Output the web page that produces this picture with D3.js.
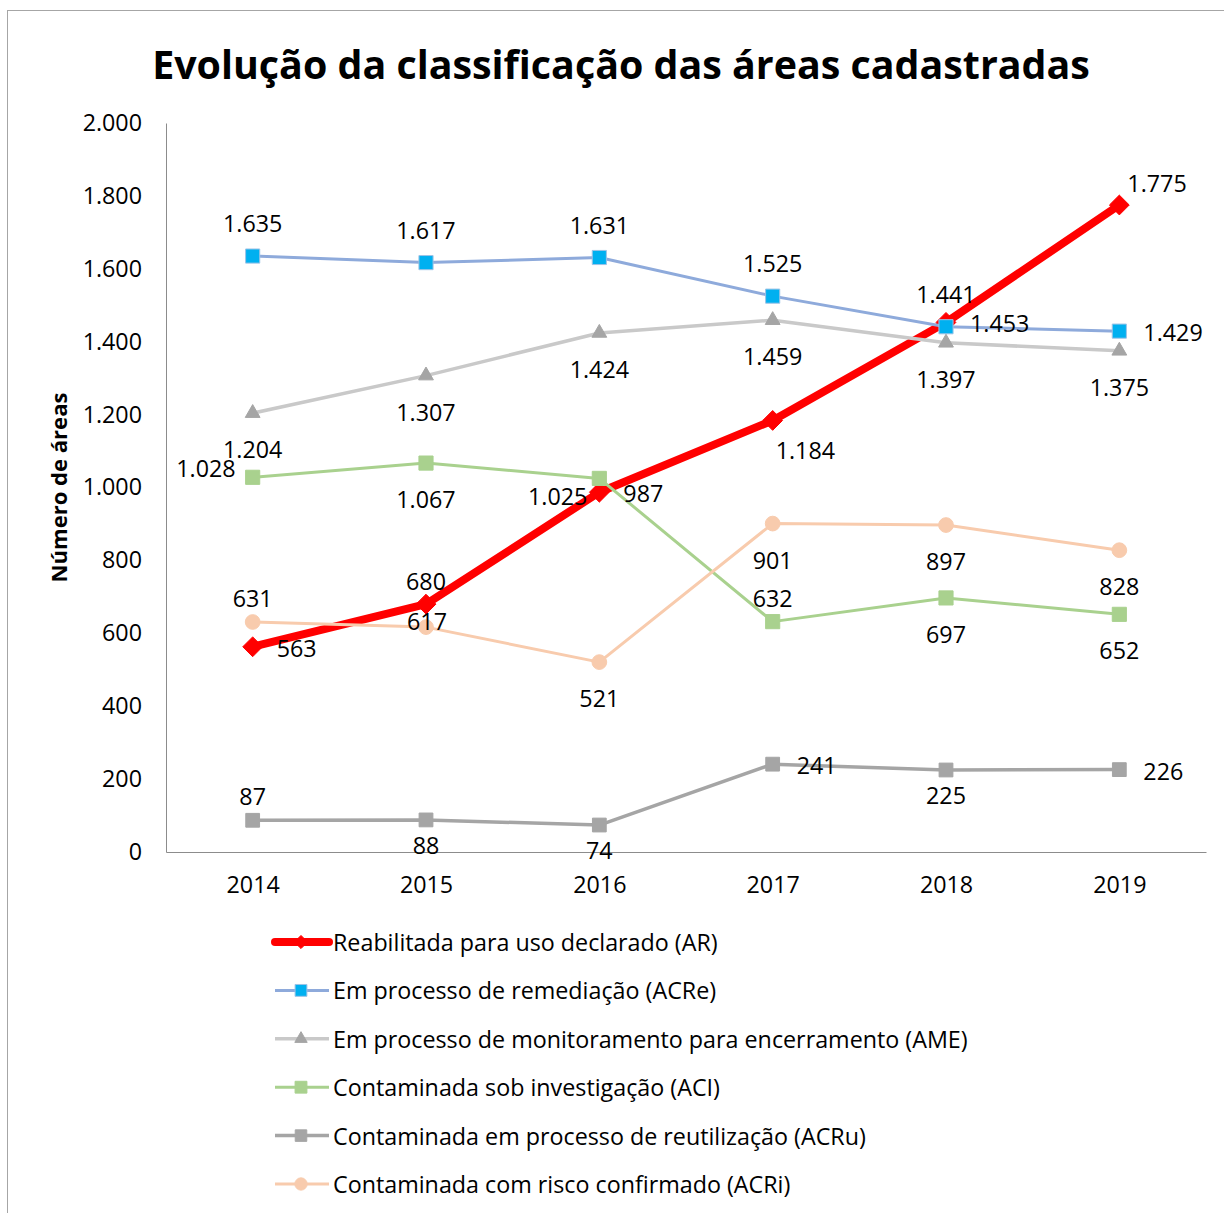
<!DOCTYPE html>
<html>
<head>
<meta charset="utf-8">
<script src="https://cdn.jsdelivr.net/npm/d3@7"></script>
<style>
  html, body { margin: 0; padding: 0; background: #fff; }
  svg text { font-family: "Open Sans", Lato, sans-serif; fill: #000; }
</style>
</head>
<body>
<div id="viz"></div>
<script>
'use strict';

const years = ['2014', '2015', '2016', '2017', '2018', '2019'];
const yTicks = [0, 200, 400, 600, 800, 1000, 1200, 1400, 1600, 1800, 2000];

const arValues = [563, 680, 987, 1184, 1453, 1775];
const acreValues = [1635, 1617, 1631, 1525, 1441, 1429];
const ameValues = [1204, 1307, 1424, 1459, 1397, 1375];
const aciValues = [1028, 1067, 1025, 632, 697, 652];
const acruValues = [87, 88, 74, 241, 225, 226];
const acriValues = [631, 617, 521, 901, 897, 828];

const seriesNames = [
  'Reabilitada para uso declarado (AR)',
  'Em processo de remediação (ACRe)',
  'Em processo de monitoramento para encerramento (AME)',
  'Contaminada sob investigação (ACI)',
  'Contaminada em processo de reutilização (ACRu)',
  'Contaminada com risco confirmado (ACRi)'
];

const titleText = 'Evolução da classificação das áreas cadastradas';
const yTitleText = 'Número de áreas';

// where each data label sits relative to its point
const arLabelPos = ['r', 'tAR', 'r', 'br', 'r', 'tr'];
const acreLabelPos = ['t', 't', 't', 't', 't', 'r'];
const ameLabelPos = ['b', 'b', 'b', 'b', 'b', 'b'];
const aciLabelPos = ['l', 'b', 'bl', 'tS', 'b', 'b'];
const acruLabelPos = ['tS', 'bS', 'bS', 'r', 'bS', 'r'];
const acriLabelPos = ['tS', 'c', 'b', 'b', 'b', 'b'];

const labelOffsets = {
  t:   {dx: 0, dy: -33, anchor: 'middle'},
  tAR: {dx: 0, dy: -23, anchor: 'middle'},
  tS:  {dx: 0, dy: -24, anchor: 'middle'},
  tr:  {dx: 8, dy: -22, anchor: 'start'},
  b:   {dx: 0, dy: 36, anchor: 'middle'},
  bS:  {dx: 0, dy: 25, anchor: 'middle'},
  br:  {dx: 3, dy: 30, anchor: 'start'},
  bl:  {dx: -12, dy: 18, anchor: 'end'},
  r:   {dx: 24, dy: 1, anchor: 'start'},
  l:   {dx: -17, dy: -9, anchor: 'end'},
  c:   {dx: 1, dy: -6, anchor: 'middle'}
};

const series = [
  {name: seriesNames[0], values: arValues, labels: arLabelPos,
   line: '#ff0000', lineWidth: 8, symbol: d3.symbolDiamond2, size: 250, fill: '#ff0000', stroke: '#ff0000'},
  {name: seriesNames[1], values: acreValues, labels: acreLabelPos,
   line: '#8eaadb', lineWidth: 3, symbol: d3.symbolSquare, size: 200, fill: '#00b0f0', stroke: '#9dc3e6'},
  {name: seriesNames[2], values: ameValues, labels: ameLabelPos,
   line: '#c9c9c9', lineWidth: 3.5, symbol: d3.symbolTriangle, size: 95, fill: '#a5a5a5', stroke: '#a5a5a5'},
  {name: seriesNames[3], values: aciValues, labels: aciLabelPos,
   line: '#a9d18e', lineWidth: 3, symbol: d3.symbolSquare, size: 200, fill: '#a9d18e', stroke: '#a9d18e'},
  {name: seriesNames[4], values: acruValues, labels: acruLabelPos,
   line: '#a5a5a5', lineWidth: 3.5, symbol: d3.symbolSquare, size: 190, fill: '#a5a5a5', stroke: '#a5a5a5'},
  {name: seriesNames[5], values: acriValues, labels: acriLabelPos,
   line: '#f8cbad', lineWidth: 3, symbol: d3.symbolCircle, size: 170, fill: '#f8cbad', stroke: '#f8cbad'}
];

const ptBR = d3.formatLocale({decimal: ',', thousands: '.', grouping: [3], currency: ['R$', '']});
const fmt = ptBR.format(',d');

const W = 1224, H = 1213;
const plot = {left: 166, right: 1206, top: 123, bottom: 852};

const svg = d3.select('#viz')
  .append('svg')
    .attr('width', W)
    .attr('height', H);

// pick a font size that makes a text run a given width
function fitSize(text, weight, target) {
  const probe = svg.append('text')
    .style('font-size', '100px')
    .style('font-weight', weight)
    .text(text);
  const w = probe.node().getComputedTextLength();
  probe.remove();
  return 100 * target / w;
}

const baseSize = fitSize(seriesNames[2], 'normal', 635);
const titleSize = fitSize(titleText, 'bold', 938);
const yTitleSize = fitSize(yTitleText, 'bold', 190);

svg.append('rect')
  .attr('width', W)
  .attr('height', H)
  .attr('fill', '#fff');

// chart frame (runs off the right and bottom of the picture)
svg.append('rect')
  .attr('x', 7.5)
  .attr('y', 10.5)
  .attr('width', W + 20)
  .attr('height', H + 20)
  .attr('fill', 'none')
  .attr('stroke', '#a6a6a6')
  .attr('stroke-width', 1);

svg.append('text')
  .attr('x', 621)
  .attr('y', 64)
  .attr('text-anchor', 'middle')
  .attr('dominant-baseline', 'central')
  .style('font-size', titleSize + 'px')
  .style('font-weight', 'bold')
  .text(titleText);

const x = d3.scalePoint()
  .domain(years)
  .range([plot.left, plot.right])
  .padding(0.5);

const y = d3.scaleLinear()
  .domain([0, 2000])
  .range([plot.bottom, plot.top]);

// Y axis
const yAxis = svg.append('g')
  .attr('transform', `translate(${plot.left},0)`)
  .call(d3.axisLeft(y).tickValues(yTicks).tickSize(0).tickPadding(24).tickFormat(fmt));
yAxis.select('.domain').attr('stroke', '#8c8c8c').attr('stroke-width', 1);
yAxis.selectAll('text')
  .style('font-size', baseSize + 'px')
  .attr('font-family', null);

// X axis
const xAxis = svg.append('g')
  .attr('transform', `translate(0,${plot.bottom})`)
  .call(d3.axisBottom(x).tickSize(0).tickPadding(24));
xAxis.select('.domain').attr('stroke', '#8c8c8c').attr('stroke-width', 1);
xAxis.selectAll('text')
  .style('font-size', baseSize + 'px')
  .attr('font-family', null);

svg.append('text')
  .attr('transform', `translate(58,${(plot.top + plot.bottom) / 2}) rotate(-90)`)
  .attr('text-anchor', 'middle')
  .attr('dominant-baseline', 'central')
  .style('font-size', yTitleSize + 'px')
  .style('font-weight', 'bold')
  .text(yTitleText);

const line = d3.line()
  .x((d, i) => x(years[i]))
  .y(d => y(d));

for (const s of series) {
  svg.append('path')
    .datum(s.values)
    .attr('fill', 'none')
    .attr('stroke', s.line)
    .attr('stroke-width', s.lineWidth)
    .attr('stroke-linejoin', 'round')
    .attr('d', line);

  svg.append('g')
    .selectAll('path')
    .data(s.values)
    .join('path')
      .attr('transform', (d, i) => `translate(${x(years[i])},${y(d)})`)
      .attr('d', d3.symbol(s.symbol, s.size))
      .attr('fill', s.fill)
      .attr('stroke', s.stroke)
      .attr('stroke-width', 1);
}

// data labels on top of everything
for (const s of series) {
  svg.append('g')
    .selectAll('text')
    .data(s.values)
    .join('text')
      .attr('x', (d, i) => x(years[i]) + labelOffsets[s.labels[i]].dx)
      .attr('y', (d, i) => y(d) + labelOffsets[s.labels[i]].dy)
      .attr('text-anchor', (d, i) => labelOffsets[s.labels[i]].anchor)
      .attr('dominant-baseline', 'central')
      .style('font-size', baseSize + 'px')
      .text(d => fmt(d));
}

// legend
const legendTop = 942, legendStep = 48.4;
const legend = svg.append('g');
series.forEach((s, i) => {
  const ly = legendTop + i * legendStep;
  const g = legend.append('g').attr('transform', `translate(0,${ly})`);
  g.append('line')
    .attr('x1', 275).attr('x2', 329)
    .attr('stroke', s.line)
    .attr('stroke-width', s.lineWidth)
    .attr('stroke-linecap', i === 0 ? 'round' : 'butt');
  g.append('path')
    .attr('transform', 'translate(301,0)')
    .attr('d', d3.symbol(s.symbol, i === 0 ? 110 : s.size * 0.7))
    .attr('fill', s.fill)
    .attr('stroke', s.stroke);
  g.append('text')
    .attr('x', 333)
    .attr('dominant-baseline', 'central')
    .style('font-size', baseSize + 'px')
    .text(s.name);
});
</script>
</body>
</html>
